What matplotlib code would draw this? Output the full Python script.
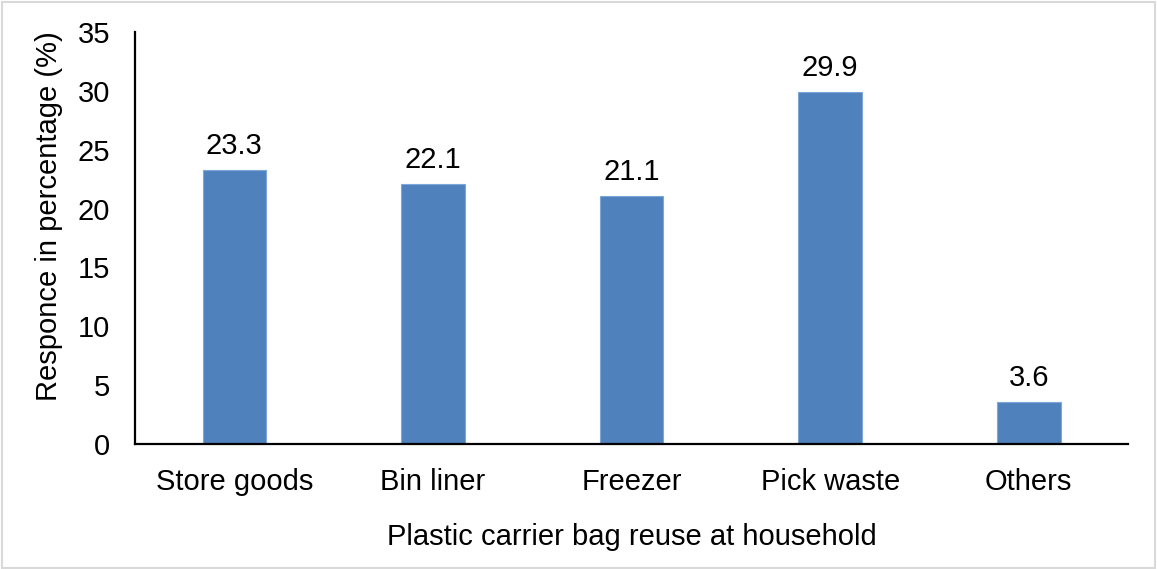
import matplotlib.pyplot as plt
from matplotlib.patches import Rectangle

plt.rcParams['font.family'] = ['Liberation Sans', 'DejaVu Sans']

# Uses of plastic carrier bags at home
categories = ['Store goods', 'Bin liner', 'Freezer', 'Pick waste', 'Others']
responses = [23.3, 22.1, 21.1, 29.9, 3.6]

fs = 21

fig = plt.figure(figsize=(11.57, 5.69), dpi=100)
ax = fig.add_axes([0.1167, 0.2197, 0.8583, 0.7241])

x = range(len(categories))
bars = ax.bar(x, responses, width=0.32, color='#4F81BD', edgecolor='#7EA6D8', linewidth=0.8)

for xi, v in zip(x, responses):
    ax.annotate(f'{v}', (xi, v), xytext=(0, 7), textcoords='offset points',
                ha='center', va='bottom', fontsize=fs)

ax.set_xlim(-0.5, len(categories) - 0.5)
ax.set_ylim(0, 35)
ax.set_yticks(range(0, 36, 5))
ax.set_xticks(list(x))
ax.set_xticklabels(categories)
ax.tick_params(axis='both', length=0, labelsize=fs)
ax.tick_params(axis='y', pad=18)
ax.tick_params(axis='x', pad=17)

ax.set_ylabel('Responce in percentage (%)', fontsize=fs)
ax.yaxis.set_label_coords(-0.0725, 0.553)
ax.set_xlabel('Plastic carrier bag reuse at household', fontsize=fs, labelpad=20)

for side in ['top', 'right']:
    ax.spines[side].set_visible(False)
for side in ['left', 'bottom']:
    ax.spines[side].set_linewidth(1.6)
    ax.spines[side].set_color('black')

# thin grey frame round the whole figure
fig.patches.append(Rectangle((0.002, 0.002), 0.996, 0.995, transform=fig.transFigure,
                             fill=False, edgecolor='#d9d9d9', linewidth=1.5))

fig.savefig('out.png', dpi=100)
